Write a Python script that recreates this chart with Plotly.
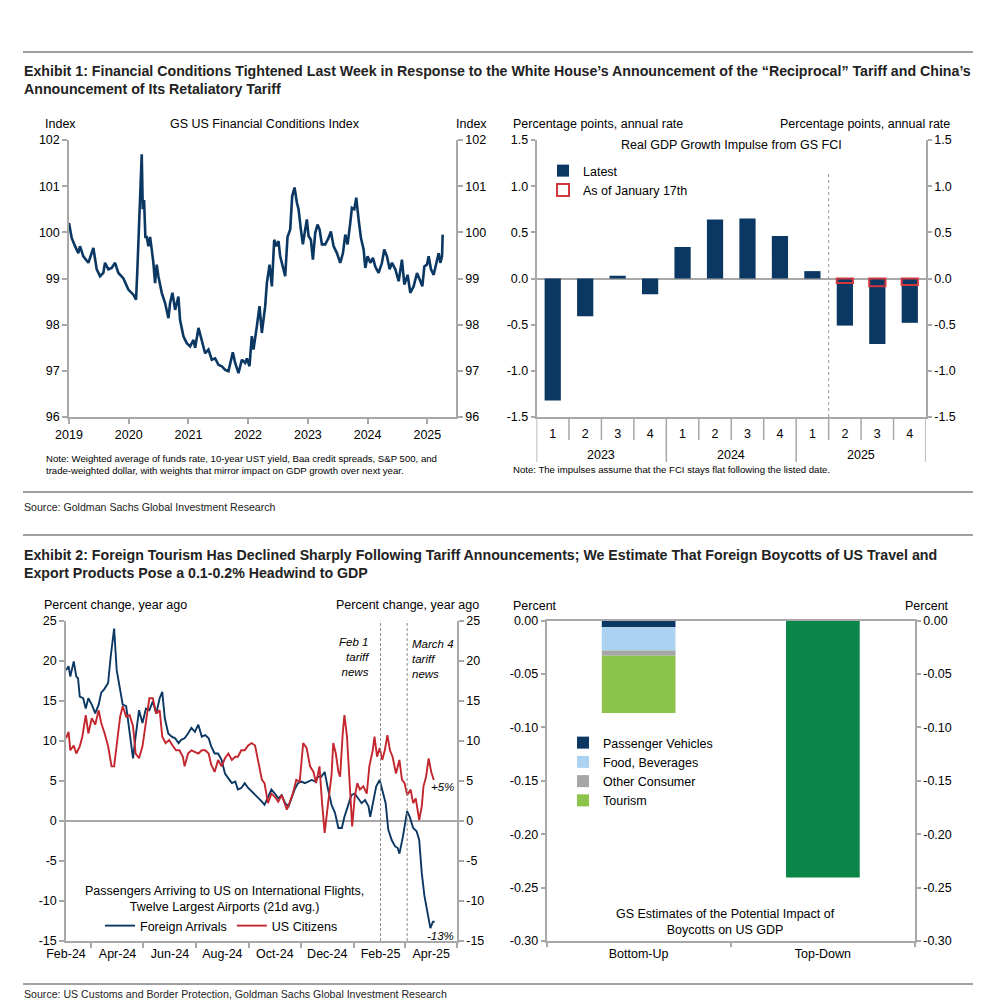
import plotly.graph_objects as go
import pandas as pd

# ---------------- DATA ----------------
# Exhibit 1 (left): GS US Financial Conditions Index (decimal year, index level)
fci_year = [
    2019.000, 2019.045, 2019.101, 2019.156, 2019.184, 2019.240, 2019.324, 2019.408, 2019.464, 2019.520,
    2019.575, 2019.603, 2019.659, 2019.715, 2019.771, 2019.827, 2019.911, 2019.994, 2020.078, 2020.123,
    2020.145, 2020.179, 2020.218, 2020.235, 2020.257, 2020.279, 2020.302, 2020.330, 2020.358, 2020.385,
    2020.413, 2020.441, 2020.469, 2020.497, 2020.553, 2020.609, 2020.665, 2020.693, 2020.732, 2020.777,
    2020.832, 2020.860, 2020.916, 2020.972, 2021.028, 2021.084, 2021.112, 2021.168, 2021.223, 2021.279,
    2021.335, 2021.391, 2021.447, 2021.503, 2021.559, 2021.615, 2021.670, 2021.743, 2021.782, 2021.838,
    2021.894, 2021.950, 2021.978, 2022.022, 2022.061, 2022.089, 2022.145, 2022.190, 2022.229, 2022.285,
    2022.313, 2022.358, 2022.397, 2022.436, 2022.469, 2022.508, 2022.536, 2022.581, 2022.620, 2022.659,
    2022.704, 2022.737, 2022.777, 2022.816, 2022.844, 2022.883, 2022.916, 2022.955, 2022.983, 2023.011,
    2023.050, 2023.084, 2023.123, 2023.162, 2023.196, 2023.235, 2023.291, 2023.346, 2023.385, 2023.430,
    2023.486, 2023.542, 2023.587, 2023.626, 2023.665, 2023.709, 2023.737, 2023.777, 2023.810, 2023.849,
    2023.888, 2023.933, 2023.961, 2024.000, 2024.045, 2024.089, 2024.128, 2024.184, 2024.240, 2024.279,
    2024.324, 2024.369, 2024.408, 2024.464, 2024.520, 2024.575, 2024.615, 2024.670, 2024.715, 2024.771,
    2024.827, 2024.872, 2024.916, 2024.950, 2024.994, 2025.022, 2025.061, 2025.106, 2025.151, 2025.190,
    2025.218, 2025.246, 2025.257]
fci_value = [
    100.20, 99.88, 99.70, 99.55, 99.70, 99.48, 99.34, 99.66, 99.20, 99.05,
    99.12, 99.34, 99.20, 99.23, 99.34, 99.12, 99.00, 98.76, 98.65, 98.54,
    99.20, 100.50, 101.69, 100.50, 100.70, 99.90, 99.90, 99.70, 99.90, 99.63,
    99.34, 98.90, 99.30, 99.05, 98.69, 98.47, 98.14, 98.47, 98.69, 98.32,
    98.61, 98.10, 97.75, 97.60, 97.53, 97.67, 97.50, 97.93, 97.67, 97.38,
    97.46, 97.24, 97.27, 97.13, 97.10, 97.02, 96.99, 97.40, 97.17, 96.95,
    97.24, 97.17, 97.27, 97.10, 97.75, 97.46, 97.96, 98.40, 97.82, 98.40,
    98.90, 99.30, 98.83, 99.84, 99.70, 99.81, 99.48, 99.26, 99.05, 99.90,
    100.06, 100.78, 100.97, 100.64, 100.50, 100.06, 99.74, 100.06, 100.28, 99.92,
    99.84, 99.41, 99.99, 100.17, 100.06, 99.74, 99.74, 99.88, 100.02, 99.70,
    99.55, 99.34, 99.55, 99.95, 99.74, 100.20, 100.53, 100.50, 100.75, 100.28,
    99.88, 99.63, 99.23, 99.48, 99.34, 99.45, 99.26, 99.12, 99.34, 99.63,
    99.48, 99.20, 99.34, 99.20, 98.94, 99.41, 98.87, 99.08, 98.69, 98.83,
    99.12, 98.98, 98.83, 99.26, 99.30, 99.48, 99.20, 99.08, 99.34, 99.55,
    99.34, 99.48, 99.95]
fci_years_ticks = [2019, 2020, 2021, 2022, 2023, 2024, 2025]
fci_yticks = [96, 97, 98, 99, 100, 101, 102]

# Exhibit 1 (right): Real GDP growth impulse from GS FCI
impulse_years = ["2023", "2024", "2025"]
impulse_quarters = ["1", "2", "3", "4", "1", "2", "3", "4", "1", "2", "3", "4"]
impulse_latest = [-1.32, -0.41, 0.03, -0.17, 0.34, 0.64, 0.65, 0.46, 0.08, -0.51, -0.71, -0.48]
impulse_jan17 = [None, None, None, None, None, None, None, None, None, -0.05, -0.085, -0.07]
impulse_yticks = [-1.5, -1.0, -0.5, 0.0, 0.5, 1.0, 1.5]

# Exhibit 2 (left): passengers arriving, % change yoy (days after 2024-02-01)
series_start = "2024-02-01"
foreign_days = [
    0, 3, 5, 9, 12, 14, 16, 20, 23, 26,
    30, 34, 38, 41, 45, 49, 52, 56, 59, 62,
    66, 70, 74, 78, 81, 85, 89, 93, 97, 101,
    105, 109, 112, 115, 119, 123, 127, 131, 134, 138,
    142, 146, 150, 154, 158, 162, 166, 169, 173, 177,
    181, 185, 189, 193, 197, 200, 204, 208, 212, 216,
    220, 224, 228, 231, 235, 239, 243, 247, 251, 255,
    259, 262, 266, 270, 274, 278, 282, 286, 290, 293,
    297, 301, 305, 309, 313, 317, 321, 324, 328, 332,
    336, 340, 344, 348, 352, 354, 357, 361, 365, 368,
    372, 375, 379, 383, 386, 388, 392, 397, 400, 404,
    408, 411, 414, 417, 421, 424, 427, 429]
foreign_pct = [
    18.8, 19.3, 18.0, 19.9, 18.0, 17.8, 15.5, 15.3, 14.0, 15.3,
    14.5, 13.4, 14.5, 16.0, 16.5, 17.2, 20.5, 24.0, 18.8, 16.8,
    14.5, 14.3, 11.3, 7.8, 10.5, 13.8, 12.2, 14.0, 13.8, 14.9,
    13.4, 15.3, 16.1, 12.8, 10.9, 10.5, 10.3, 9.7, 10.1, 10.3,
    10.9, 11.6, 11.1, 12.0, 10.5, 10.7, 10.3, 9.3, 8.4, 8.4,
    7.6, 5.9, 5.3, 4.7, 4.9, 3.9, 4.1, 4.7, 4.1, 3.7,
    3.2, 2.8, 2.4, 2.0, 3.0, 3.9, 3.4, 2.8, 3.2, 2.2,
    1.8, 2.6, 3.9, 4.7, 4.9, 4.7, 4.9, 5.1, 4.9, 5.5,
    5.5, 6.1, 3.9, 2.0, 1.0, -0.9, -0.9, 0.5, 1.8, 3.2,
    3.4, 2.8, 2.2, 2.6, 1.8, 0.5, 2.2, 4.3, 5.1, 3.9,
    2.2, -1.1, -2.4, -3.2, -3.4, -4.1, -2.0, 1.2, 0.5, -0.9,
    -1.3, -2.4, -6.5, -9.3, -11.5, -13.4, -12.6, -12.6]
citizens_days = [
    0, 3, 5, 9, 12, 16, 19, 23, 26, 30,
    34, 38, 41, 45, 49, 53, 56, 59, 63, 66,
    70, 74, 78, 81, 85, 89, 93, 97, 101, 105,
    109, 112, 116, 120, 124, 128, 132, 136, 138, 142,
    146, 150, 154, 158, 162, 166, 169, 173, 177, 181,
    185, 189, 193, 197, 200, 204, 208, 212, 216, 220,
    224, 228, 231, 235, 239, 243, 247, 251, 255, 257,
    260, 264, 268, 272, 276, 280, 284, 288, 291, 295,
    298, 301, 305, 309, 311, 314, 317, 319, 322, 324,
    327, 330, 333, 336, 339, 342, 346, 350, 353, 357,
    359, 362, 365, 368, 371, 374, 377, 380, 384, 388,
    391, 394, 397, 401, 404, 407, 411, 414, 416, 419,
    422, 425, 428]
citizens_pct = [
    10.3, 11.1, 8.8, 9.4, 8.4, 9.3, 10.5, 13.2, 10.9, 12.8,
    12.0, 13.8, 12.2, 10.9, 9.3, 6.8, 6.8, 9.7, 13.0, 14.3,
    13.0, 13.2, 11.8, 8.4, 7.8, 9.3, 12.4, 15.3, 15.3, 13.4,
    13.8, 10.5, 9.7, 10.1, 9.4, 8.8, 8.8, 8.0, 6.8, 8.4,
    8.8, 8.6, 8.4, 8.8, 8.8, 8.4, 7.0, 6.1, 7.6, 6.8,
    7.8, 8.4, 7.6, 8.0, 8.0, 8.8, 8.8, 9.4, 9.7, 9.4,
    7.0, 5.1, 4.7, 2.2, 3.4, 3.0, 2.4, 3.2, 2.0, 1.4,
    2.2, 3.4, 5.1, 4.9, 9.7, 9.1, 6.8, 6.1, 4.7, 6.8,
    2.2, -1.5, 2.2, 5.7, 9.7, 8.4, 6.1, 5.5, 10.9, 13.2,
    10.5, 5.1, -0.7, 3.0, 4.7, 3.9, 4.3, 3.4, 6.8, 8.8,
    10.5, 8.0, 9.1, 7.6, 8.8, 10.7, 8.8, 8.0, 5.9, 7.6,
    5.1, 4.7, 3.2, 3.9, 2.2, 2.8, 0.1, 1.8, 4.3, 5.5,
    7.8, 6.1, 5.1]
tariff_event_dates = ["2025-02-01", "2025-03-04"]
month_tick_dates = ["2024-02-01", "2024-04-01", "2024-06-01", "2024-08-01",
                    "2024-10-01", "2024-12-01", "2025-02-01", "2025-04-01"]
month_tick_labels = ["Feb-24", "Apr-24", "Jun-24", "Aug-24", "Oct-24", "Dec-24", "Feb-25", "Apr-25"]
minor_tick_dates = ["2024-03-01", "2024-05-01", "2024-07-01", "2024-09-01", "2024-11-01",
                    "2025-01-01", "2025-03-01", "2025-05-01"]
travel_yticks = [-15, -10, -5, 0, 5, 10, 15, 20, 25]

# Exhibit 2 (right): GS estimates of boycott impact on US GDP (percent)
boycott_categories = ["Bottom-Up", "Top-Down"]
passenger_vehicles = [-0.0063, None]
food_beverages = [-0.0217, None]
other_consumer = [-0.005, None]
tourism = [-0.0536, None]
top_down_total = [None, -0.2406]
boycott_yticks = [-0.30, -0.25, -0.20, -0.15, -0.10, -0.05, 0.00]

# ---------------- STYLE ----------------
NAVY = "#0b3763"
RED = "#c4262e"
LBLUE = "#abd3f1"
GREY = "#a6a6a6"
LGREEN = "#8cc34b"
DGREEN = "#0a8649"
AXIS = "#a8a8a8"
FONT = "Liberation Sans, Arial, sans-serif"
HEAD = "Liberation Sans, Arial, sans-serif"
TXT = "#000000"

PAGE_OFFSET = 8  # the page body margin that places the figure 8px from the window corner


def X(px):
    return (px - PAGE_OFFSET) / 1000.0


def Y(py):
    return 1 - (py - PAGE_OFFSET) / 1000.0


fig = go.Figure()

# Panel 1: FCI line
fig.add_trace(go.Scatter(x=fci_year, y=fci_value, mode="lines",
                         line=dict(color=NAVY, width=2.6), showlegend=False,
                         xaxis="x", yaxis="y"))
fig.add_trace(go.Scatter(x=[], y=[], xaxis="x", yaxis="y5", showlegend=False))

# Panel 2: impulse bars
qpos = list(range(len(impulse_quarters)))
fig.add_trace(go.Bar(x=qpos, y=impulse_latest, name="Latest", width=0.5,
                     marker=dict(color=NAVY, line=dict(width=0)),
                     xaxis="x2", yaxis="y2", legend="legend"))
fig.add_trace(go.Bar(x=qpos, y=impulse_jan17, name="As of January 17th", width=0.5,
                     marker=dict(color="rgba(0,0,0,0)", line=dict(color="#d0383e", width=2)),
                     xaxis="x2", yaxis="y6", legend="legend"))

# Panel 3: travel lines
base = pd.Timestamp(series_start)
foreign_dates = [base + pd.Timedelta(days=d) for d in foreign_days]
citizens_dates = [base + pd.Timedelta(days=d) for d in citizens_days]
fig.add_trace(go.Scatter(x=foreign_dates, y=foreign_pct, mode="lines", name="Foreign Arrivals",
                         line=dict(color=NAVY, width=1.9), xaxis="x3", yaxis="y3", legend="legend2"))
fig.add_trace(go.Scatter(x=citizens_dates, y=citizens_pct, mode="lines", name="US Citizens",
                         line=dict(color=RED, width=1.9), xaxis="x3", yaxis="y3", legend="legend2"))
fig.add_trace(go.Scatter(x=[], y=[], xaxis="x3", yaxis="y7", showlegend=False))

# Panel 4: boycott bars
for name, vals, col in [("Passenger Vehicles", passenger_vehicles, NAVY),
                        ("Food, Beverages", food_beverages, LBLUE),
                        ("Other Consumer", other_consumer, GREY),
                        ("Tourism", tourism, LGREEN)]:
    fig.add_trace(go.Bar(x=boycott_categories, y=vals, name=name, width=0.4,
                         marker=dict(color=col, line=dict(width=0)),
                         xaxis="x4", yaxis="y4", legend="legend3"))
fig.add_trace(go.Bar(x=boycott_categories, y=top_down_total, name="Top-Down", width=0.4,
                     marker=dict(color=DGREEN, line=dict(width=0)), showlegend=False,
                     xaxis="x4", yaxis="y4"))
fig.add_trace(go.Scatter(x=[], y=[], xaxis="x4", yaxis="y8", showlegend=False))

tickfont = dict(family=FONT, size=12.5, color=TXT)
common_axis = dict(showgrid=False, zeroline=False, showline=True, linecolor=AXIS, linewidth=1.5,
                   tickcolor=AXIS, tickwidth=1.5, tickfont=tickfont, automargin=False)

ydom1 = [Y(417), Y(140)]
ydom2 = [Y(941), Y(620.5)]

fig.update_layout(
    template="none",
    width=1000, height=1000, margin=dict(l=0, r=0, t=0, b=0, pad=0, autoexpand=False),
    paper_bgcolor="white", plot_bgcolor="white",
    font=dict(family=FONT, size=12.5, color=TXT),
    barmode="relative",
    # Panel 1
    xaxis=dict(common_axis, domain=[X(69), X(456)], anchor="y", range=[2019, 2025.48],
               tickmode="array", tickvals=fci_years_ticks, ticks="outside", ticklen=5),
    yaxis=dict(common_axis, domain=ydom1, anchor="x", range=[96, 102], tickmode="array",
               tickvals=fci_yticks, ticktext=[str(v) for v in fci_yticks], ticks="outside", ticklen=5),
    yaxis5=dict(common_axis, overlaying="y", side="right", anchor="x", range=[96, 102], tickmode="array",
                tickvals=fci_yticks, ticktext=[str(v) for v in fci_yticks], ticks="outside", ticklen=5),
    # Panel 2
    xaxis2=dict(common_axis, domain=[X(536.5), X(926)], anchor="y2", range=[-0.5, 11.5],
                tickmode="array", tickvals=qpos, ticktext=impulse_quarters, ticks="",
                ticklabelstandoff=4),
    yaxis2=dict(common_axis, domain=ydom1, anchor="x2", range=[-1.5, 1.5], tickmode="array",
                tickvals=impulse_yticks, ticktext=[f"{v:.1f}" for v in impulse_yticks],
                ticks="outside", ticklen=4, zeroline=True, zerolinecolor=AXIS, zerolinewidth=1.5),
    yaxis6=dict(common_axis, overlaying="y2", side="right", anchor="x2", range=[-1.5, 1.5],
                tickmode="array", tickvals=impulse_yticks,
                ticktext=[f"{v:.1f}" for v in impulse_yticks], ticks="outside", ticklen=4),
    # Panel 3
    xaxis3=dict(common_axis, domain=[X(66), X(457)], anchor="y3", type="date",
                range=["2024-02-01", "2025-05-01"], tickmode="array", tickvals=month_tick_dates,
                ticktext=month_tick_labels, ticks="",
                minor=dict(tickmode="array", tickvals=minor_tick_dates, ticks="outside",
                           ticklen=5, tickcolor=AXIS, tickwidth=1.5)),
    yaxis3=dict(common_axis, domain=ydom2, anchor="x3", range=[-15, 25], tickmode="array",
                tickvals=travel_yticks, ticktext=[str(v) for v in travel_yticks], ticks="outside",
                ticklen=5, zeroline=True, zerolinecolor=AXIS, zerolinewidth=1.5),
    yaxis7=dict(common_axis, overlaying="y3", side="right", anchor="x3", range=[-15, 25],
                tickmode="array", tickvals=travel_yticks, ticktext=[str(v) for v in travel_yticks],
                ticks="outside", ticklen=5),
    # Panel 4
    xaxis4=dict(common_axis, domain=[X(546.5), X(915)], anchor="y4", type="category",
                categoryorder="array", categoryarray=boycott_categories, tickson="boundaries",
                ticks="outside", ticklen=4, mirror=True),
    yaxis4=dict(common_axis, domain=ydom2, anchor="x4", range=[-0.30, 0.0], tickmode="array",
                tickvals=boycott_yticks, ticktext=[f"{v:.2f}" for v in boycott_yticks],
                ticks="outside", ticklen=4),
    yaxis8=dict(common_axis, overlaying="y4", side="right", anchor="x4", range=[-0.30, 0.0],
                tickmode="array", tickvals=boycott_yticks,
                ticktext=[f"{v:.2f}" for v in boycott_yticks], ticks="outside", ticklen=4),
    legend=dict(x=X(543), y=Y(156), xanchor="left", yanchor="top", bgcolor="rgba(0,0,0,0)",
                font=dict(family=FONT, size=12.5, color=TXT), tracegroupgap=0, itemwidth=30,
                traceorder="normal"),
    legend2=dict(x=X(100), y=Y(911), xanchor="left", yanchor="top", orientation="h",
                 bgcolor="rgba(0,0,0,0)", font=dict(family=FONT, size=12.5, color=TXT),
                 itemwidth=30),
    legend3=dict(x=X(563), y=Y(728), xanchor="left", yanchor="top", bgcolor="rgba(0,0,0,0)",
                 font=dict(family=FONT, size=12.5, color=TXT), tracegroupgap=0, itemwidth=30,
                 traceorder="normal"),
)

ann = []


def add_text(text, px, py, xanchor="left", size=12.5, family=FONT, yanchor="middle", align="left",
             color=TXT, xref="paper", xval=None):
    ann.append(dict(text=text, xref=xref, yref="paper",
                    x=(X(px) if xval is None else xval), y=Y(py),
                    xanchor=xanchor, yanchor=yanchor, align=align, showarrow=False,
                    font=dict(family=family, size=size, color=color)))


# Exhibit 1 header
add_text("<b>Exhibit 1: Financial Conditions Tightened Last Week in Response to the White House’s "
         "Announcement of the “Reciprocal” Tariff and China’s<br>Announcement of Its Retaliatory Tariff</b>",
         22, 61, size=14.2, family=HEAD, yanchor="top", color="#222222")
add_text("Index", 60, 124, xanchor="center")
add_text("GS US Financial Conditions Index", 265, 124, xanchor="center")
add_text("Index", 471, 124, xanchor="center")
add_text("Note: Weighted average of funds rate, 10-year UST yield, Baa credit spreads, S&P 500, and<br>"
         "trade-weighted dollar, with weights that mirror impact on GDP growth over next year.",
         44, 451, size=9.6, yanchor="top")
add_text("Percentage points, annual rate", 511, 124)
add_text("Percentage points, annual rate", 952, 124, xanchor="right")
add_text("Real GDP Growth Impulse from GS FCI", 731, 145, xanchor="center")
for i, yr in enumerate(impulse_years):
    add_text(yr, 0, 455, xanchor="center", xref="x2", xval=1.5 + 4 * i)
add_text("Note: The impulses assume that the FCI stays flat following the listed date.", 511, 470, size=9.6)
add_text("Source: Goldman Sachs Global Investment Research", 22, 507, size=10.6, family=HEAD,
         color="#222222")

# Exhibit 2 header
add_text("<b>Exhibit 2: Foreign Tourism Has Declined Sharply Following Tariff Announcements; We Estimate "
         "That Foreign Boycotts of US Travel and<br>Export Products Pose a 0.1-0.2% Headwind to GDP</b>",
         22, 545, size=14.2, family=HEAD, yanchor="top", color="#222222")
add_text("Percent change, year ago", 42, 605)
add_text("Percent change, year ago", 481, 605, xanchor="right")
add_text("<i>Feb 1<br>tariff<br>news</i>", 372, 634, xanchor="right", align="right", size=11.5,
         yanchor="top")
add_text("<i>March 4<br>tariff<br>news</i>", 410, 636, size=11.5, yanchor="top")
add_text("<i>+5%</i>", 429, 787, size=11.5)
add_text("<i>-13%</i>", 425, 936, size=11.5)
add_text("Passengers Arriving to US on International Flights,<br>Twelve Largest Airports (21d avg.)",
         224, 882, xanchor="center", align="center", size=12.5, yanchor="top")
add_text("Percent", 511, 606)
add_text("Percent", 951, 606, xanchor="right")
add_text("GS Estimates of the Potential Impact of<br>Boycotts on US GDP", 725, 905, xanchor="center",
         align="center", size=12.5, yanchor="top")
add_text("Source: US Customs and Border Protection, Goldman Sachs Global Investment Research",
         22, 994, size=10.6, family=HEAD, color="#222222")

fig.update_layout(annotations=ann)

shapes = []
# horizontal rules
for py in [52, 492, 535, 984]:
    shapes.append(dict(type="line", xref="paper", yref="paper", x0=X(23), x1=X(973), y0=Y(py), y1=Y(py),
                       line=dict(color="#a0a0a0", width=2)))
# quarter / year separators under impulse chart
for k in range(len(impulse_quarters) + 1):
    long = (k % 4 == 0)
    shapes.append(dict(type="line", xref="x2", yref="paper", x0=k - 0.5, x1=k - 0.5,
                       y0=Y(417), y1=Y(462 if long else 440), line=dict(color=AXIS, width=1.5)))
# dotted divider between actual and projected quarters
shapes.append(dict(type="line", xref="x2", yref="paper", x0=8.5, x1=8.5, y0=Y(417), y1=Y(174),
                   line=dict(color="#9a9a9a", width=1, dash="dot")))
# tariff event lines
for d in tariff_event_dates:
    shapes.append(dict(type="line", xref="x3", yref="y3", x0=d, x1=d, y0=-15, y1=25,
                       line=dict(color="#8c8c8c", width=1, dash="3px,2px")))
fig.update_layout(shapes=shapes)

fig.write_html("out.html")
